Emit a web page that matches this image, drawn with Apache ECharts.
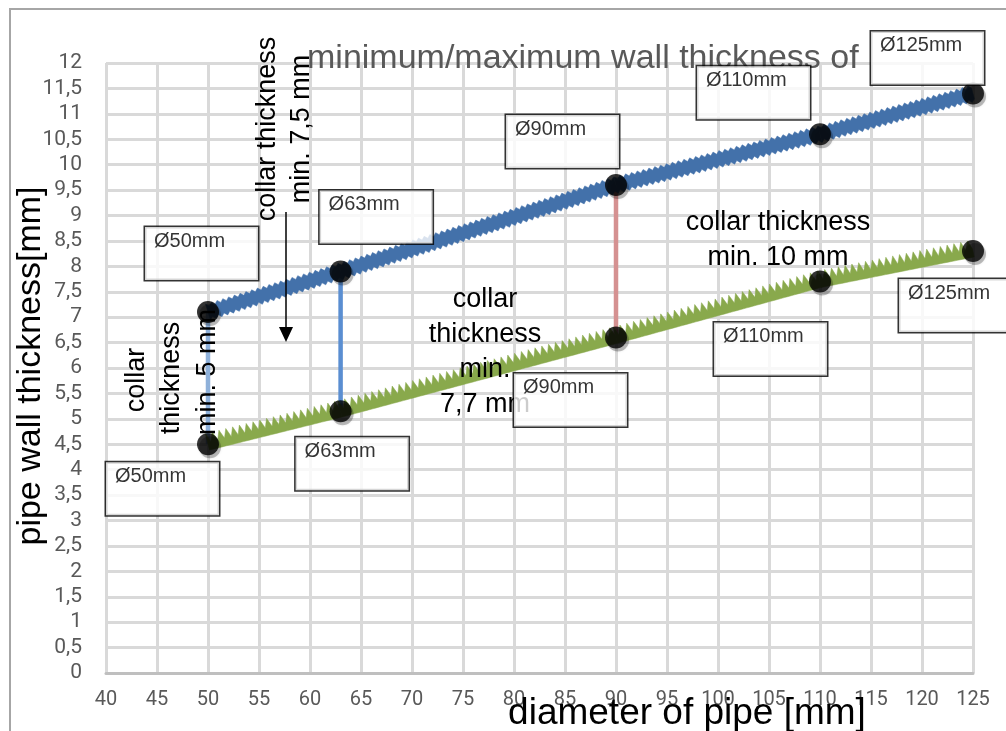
<!DOCTYPE html>
<html>
<head>
<meta charset="utf-8">
<title>Pipe wall thickness</title>
<script src="https://cdn.jsdelivr.net/npm/echarts@6/dist/echarts.min.js"></script>
<style>
  html, body { margin: 0; padding: 0; background: #fff; }
  #chart { width: 1006px; height: 731px; }
</style>
</head>
<body>
<div id="chart"></div>
<script>
// Nominal pipe diameters [mm]
const diameters = [50, 63, 90, 110, 125];
// Maximum and minimum pipe wall thickness [mm] for each diameter
const maxWall = [7.1, 7.9, 9.6, 10.6, 11.4];
const minWall = [4.5, 5.15, 6.6, 7.7, 8.3];
// Diameters where the collar thickness bar is drawn between the two curves
const collarDiameters = [50, 63, 90];

// Axis ranges
const xMin = 40, xMax = 125, xStep = 5;
const yMin = 0, yMax = 12, yStep = 0.5;

// Styling
const blue = '#4371aa';
const green = '#89a94c';
const collarColors = ['#8fb1da', '#5a8ed1', '#d59191'];
const textFont = '"Liberation Sans", Arial, sans-serif';
const dotSize = 22;
// Label box top-left offsets from each point (pixels)
const maxLabelOffsets = [[-63, -85], [-21, -81], [-110, -70], [-123, -68], [-102, -62]];
const minLabelOffsets = [[-102, 18], [-45, 26], [-102, 36], [-106, 41], [-74, 28]];

function segments(ys) {
  const out = [];
  for (let i = 0; i < diameters.length - 1; i++) {
    out.push([diameters[i], ys[i], diameters[i + 1], ys[i + 1]]);
  }
  return out;
}

// Thick band with a serrated edge following each segment
function bandRenderer(kind, color) {
  return function (params, api) {
    const p0 = api.coord([api.value(0), api.value(1)]);
    const p1 = api.coord([api.value(2), api.value(3)]);
    const dx = p1[0] - p0[0], dy = p1[1] - p0[1];
    const len = Math.sqrt(dx * dx + dy * dy);
    const tx = dx / len, ty = dy / len;
    const nx = ty, ny = -tx; // normal pointing up on screen
    const period = kind === 'diamond' ? 6 : 7;
    const n = Math.max(2, Math.round(len / (period / 2)));
    const step = len / n;
    const top = [], bottom = [];
    for (let k = 0; k <= n; k++) {
      const s = k * step;
      const bx = p0[0] + tx * s, by = p0[1] + ty * s;
      const tip = k % 2 === 0;
      let hTop, hBot;
      if (kind === 'diamond') {
        hTop = tip ? 8.5 : 5.5;
        hBot = tip ? 8.5 : 5.5;
      } else {
        hTop = tip ? 11 : 2;
        hBot = 6;
      }
      top.push([bx + nx * hTop, by + ny * hTop]);
      bottom.push([bx - nx * hBot, by - ny * hBot]);
    }
    const points = top.concat(bottom.reverse());
    return {
      type: 'polygon',
      shape: { points: points },
      style: { fill: color, stroke: color, lineWidth: 0.5 }
    };
  };
}

function pointData(ys) {
  return diameters.map(function (d, i) { return [d, ys[i]]; });
}

// Label position is relative to the dot's bounding box corner
function dotData(ys, offsets) {
  return diameters.map(function (d, i) {
    return {
      value: [d, ys[i]],
      name: 'Ø' + d + 'mm',
      label: { position: [offsets[i][0] + dotSize / 2, offsets[i][1] + dotSize / 2] }
    };
  });
}

const labelBox = {
  show: true,
  formatter: function (p) { return p.name; },
  color: '#000',
  fontFamily: textFont,
  fontSize: 20,
  lineHeight: 20,
  align: 'left',
  verticalAlign: 'top',
  backgroundColor: '#ffffff',
  borderColor: '#000000',
  borderWidth: 1.5,
  textBorderWidth: 0,
  textBorderColor: 'transparent',
  padding: [4, 9, 0, 9],
  width: 95,
  height: 49
};

// Soft grey shadow drawn under each dot
function shadowSeries(ys) {
  return {
    type: 'scatter',
    z: 3,
    silent: true,
    symbol: 'circle',
    symbolSize: dotSize,
    symbolOffset: [2, 3],
    itemStyle: { color: 'rgba(0,0,0,0.3)', shadowColor: 'rgba(0,0,0,0.3)', shadowBlur: 3 },
    data: pointData(ys)
  };
}

function dotSeries(ys, offsets) {
  return {
    type: 'scatter',
    z: 4,
    symbol: 'circle',
    symbolSize: dotSize,
    itemStyle: { color: '#000' },
    label: labelBox,
    data: dotData(ys, offsets)
  };
}

const collarSeries = collarDiameters.map(function (d, i) {
  const idx = diameters.indexOf(d);
  return {
    type: 'line',
    z: 1,
    symbol: 'none',
    silent: true,
    lineStyle: { color: collarColors[i], width: 4.5 },
    data: [[d, minWall[idx]], [d, maxWall[idx]]]
  };
});

const chart = echarts.init(document.getElementById('chart'), null, { renderer: 'canvas' });

chart.setOption({
  animation: false,
  backgroundColor: '#ffffff',
  grid: { left: 106, top: 63, right: 33, bottom: 58, containLabel: false },
  xAxis: {
    type: 'value',
    min: xMin, max: xMax, interval: xStep,
    axisLine: { show: true, lineStyle: { color: '#bfbfbf', width: 3 } },
    axisTick: { show: false },
    axisLabel: { color: '#595959', fontFamily: 'Roboto', fontSize: 20, margin: 17 },
    splitLine: { show: true, lineStyle: { color: '#d9d9d9', width: 3 } }
  },
  yAxis: {
    type: 'value',
    min: yMin, max: yMax, interval: yStep,
    axisLine: { show: false },
    axisTick: { show: false },
    axisLabel: {
      color: '#595959', fontFamily: 'Roboto', fontSize: 21, margin: 24,
      formatter: function (v) { return String(v).replace('.', ','); }
    },
    splitLine: { show: true, lineStyle: { color: '#d9d9d9', width: 3 } }
  },
  series: collarSeries.concat([
    {
      type: 'custom',
      z: 2,
      silent: true,
      renderItem: bandRenderer('diamond', blue),
      data: segments(maxWall)
    },
    {
      type: 'custom',
      z: 2,
      silent: true,
      renderItem: bandRenderer('triangle', green),
      data: segments(minWall)
    },
    shadowSeries(maxWall),
    shadowSeries(minWall),
    dotSeries(maxWall, maxLabelOffsets),
    dotSeries(minWall, minLabelOffsets)
  ]),
  graphic: [
    {
      type: 'rect', silent: true, z: 0,
      shape: { x: 10, y: 9, width: 1100, height: 800 },
      style: { fill: 'none', stroke: '#a6a6a6', lineWidth: 2 }
    },
    {
      type: 'text', silent: true, z: 3, x: 307, y: 59,
      style: { text: 'minimum/maximum wall thickness of', fill: '#595959',
        font: 'normal 34px ' + textFont, align: 'left', verticalAlign: 'middle' }
    },
    {
      type: 'text', silent: true, z: 3, x: 31, y: 366, rotation: Math.PI / 2,
      style: { text: 'pipe wall thickness[mm]', fill: '#000',
        font: 'normal 34px ' + textFont, align: 'center', verticalAlign: 'middle' }
    },
    {
      type: 'text', silent: true, z: 3, x: 687, y: 714,
      style: { text: 'diameter of pipe [mm]', fill: '#000',
        font: 'normal 37px ' + textFont, align: 'center', verticalAlign: 'middle' }
    },
    {
      type: 'text', silent: true, z: 3, x: 268, y: 129, rotation: Math.PI / 2,
      style: { text: 'collar thickness', fill: '#000',
        font: 'normal 27px ' + textFont, align: 'center', verticalAlign: 'middle' }
    },
    {
      type: 'text', silent: true, z: 3, x: 302, y: 129, rotation: Math.PI / 2,
      style: { text: 'min. 7,5 mm', fill: '#000',
        font: 'normal 27px ' + textFont, align: 'center', verticalAlign: 'middle' }
    },
    {
      type: 'text', silent: true, z: 3, x: 137, y: 380, rotation: Math.PI / 2,
      style: { text: 'collar', fill: '#000',
        font: 'normal 27px ' + textFont, align: 'center', verticalAlign: 'middle' }
    },
    {
      type: 'text', silent: true, z: 3, x: 172, y: 378, rotation: Math.PI / 2,
      style: { text: 'thickness', fill: '#000',
        font: 'normal 27px ' + textFont, align: 'center', verticalAlign: 'middle' }
    },
    {
      type: 'text', silent: true, z: 3, x: 208, y: 435, rotation: Math.PI / 2,
      style: { text: 'min. 5 mm', fill: '#000',
        font: 'normal 27px ' + textFont, align: 'left', verticalAlign: 'middle' }
    },
    {
      type: 'text', silent: true, z: 3, x: 485, y: 352,
      style: { text: 'collar\nthickness\nmin.\n7,7 mm', fill: '#000', lineHeight: 35,
        font: 'normal 27px ' + textFont, align: 'center', verticalAlign: 'middle' }
    },
    {
      type: 'text', silent: true, z: 3, x: 778, y: 240,
      style: { text: 'collar thickness\nmin. 10 mm', fill: '#000', lineHeight: 35,
        font: 'normal 27px ' + textFont, align: 'center', verticalAlign: 'middle' }
    },
    {
      type: 'line', silent: true, z: 5,
      shape: { x1: 286, y1: 212, x2: 286, y2: 330 },
      style: { stroke: '#000', lineWidth: 1.5 }
    },
    {
      type: 'polygon', silent: true, z: 5,
      shape: { points: [[279, 327], [293, 327], [286, 342]] },
      style: { fill: '#000' }
    }
  ]
});
</script>
</body>
</html>
